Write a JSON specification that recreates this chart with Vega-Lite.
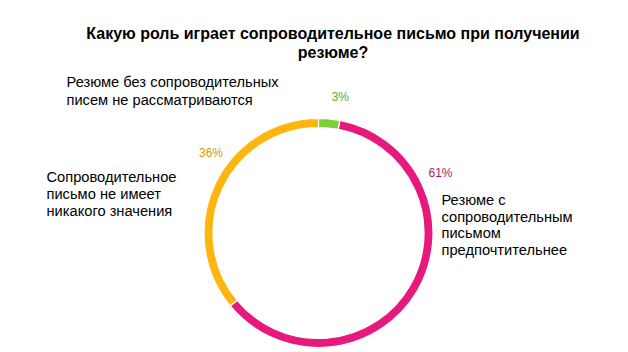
{
  "$schema": "https://vega.github.io/schema/vega-lite/v6.json",
  "width": 637,
  "height": 352,
  "autosize": {"type": "none"},
  "padding": {"left": 0, "top": 57, "right": 0, "bottom": 0},
  "background": "white",
  "config": {"view": {"stroke": null}, "font": "Liberation Sans"},
  "title": {
    "text": ["Какую роль играет сопроводительное письмо при получении", "резюме?"],
    "font": "Liberation Sans",
    "fontSize": 16,
    "fontWeight": "bold",
    "color": "#000000",
    "anchor": "middle",
    "dx": 14.5,
    "offset": -4,
    "lineHeight": 19
  },
  "data": {
    "values": [
      {"name": "Резюме без сопроводительных\nписем не рассматриваются", "value": 3, "pct": "3%"},
      {"name": "Резюме с\nсопроводительным\nписьмом\nпредпочтительнее", "value": 61, "pct": "61%"},
      {"name": "Сопроводительное\nписьмо не имеет\nникакого значения", "value": 36, "pct": "36%"}
    ]
  },
  "transform": [
    {"stack": "value", "groupby": [], "as": ["v0", "v1"], "sort": [{"field": "name", "order": "ascending"}]}
  ],
  "layer": [
    {
      "mark": {"type": "arc", "outerRadius": 114.5, "innerRadius": 105.5, "stroke": "#ffffff", "strokeWidth": 1.2},
      "encoding": {
        "theta": {"field": "v0", "type": "quantitative", "scale": {"domain": [0, 100]}},
        "theta2": {"field": "v1"},
        "color": {
          "field": "pct",
          "type": "nominal",
          "scale": {"domain": ["3%", "61%", "36%"], "range": ["#7ED03B", "#E8197D", "#FFB50F"]},
          "legend": null
        }
      }
    },
    {
      "transform": [{"filter": "datum.value == 3"}],
      "mark": {"type": "text", "radius": 138, "dx": -4, "dy": 0, "align": "center", "baseline": "middle", "fontSize": 12, "color": "#5EAA2A"},
      "encoding": {
        "theta": {"field": "v1", "type": "quantitative", "stack": null},
        "text": {"field": "pct"}
      }
    },
    {
      "transform": [{"filter": "datum.value == 61"}],
      "mark": {"type": "text", "radius": 136, "dx": 96.5, "dy": 73.6, "align": "center", "baseline": "middle", "fontSize": 12, "color": "#B3165F"},
      "encoding": {
        "theta": {"field": "v0", "type": "quantitative", "stack": null},
        "text": {"field": "pct"}
      }
    },
    {
      "transform": [{"filter": "datum.value == 36"}],
      "mark": {"type": "text", "radius": 134, "dx": -107.5, "dy": 54, "align": "center", "baseline": "middle", "fontSize": 12, "color": "#D29A0C"},
      "encoding": {
        "theta": {"field": "v1", "type": "quantitative", "stack": null},
        "text": {"field": "pct"}
      }
    },
    {
      "transform": [{"filter": "datum.value == 3"}],
      "mark": {"type": "text", "radius": 146.5, "dx": -252, "dy": 0, "align": "left", "baseline": "alphabetic", "fontSize": 14.67, "lineHeight": 18, "lineBreak": "\n", "color": "#000000"},
      "encoding": {
        "theta": {"field": "v0", "type": "quantitative", "stack": null},
        "text": {"field": "name"}
      }
    },
    {
      "transform": [{"filter": "datum.value == 61"}],
      "mark": {"type": "text", "radius": 136, "dx": 97.5, "dy": 105.6, "align": "left", "baseline": "alphabetic", "fontSize": 14.67, "lineHeight": 16.5, "lineBreak": "\n", "color": "#000000"},
      "encoding": {
        "theta": {"field": "v0", "type": "quantitative", "stack": null},
        "text": {"field": "name"}
      }
    },
    {
      "transform": [{"filter": "datum.value == 36"}],
      "mark": {"type": "text", "radius": 134, "dx": -272, "dy": 83, "align": "left", "baseline": "alphabetic", "fontSize": 14.67, "lineHeight": 17, "lineBreak": "\n", "color": "#000000"},
      "encoding": {
        "theta": {"field": "v1", "type": "quantitative", "stack": null},
        "text": {"field": "name"}
      }
    }
  ]
}
